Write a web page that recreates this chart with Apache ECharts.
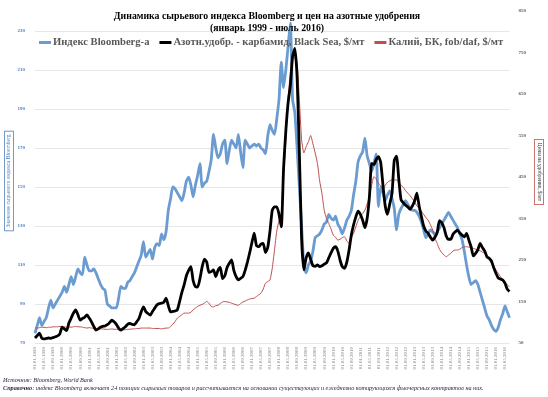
<!DOCTYPE html>
<html>
<head>
<meta charset="utf-8">
<script src="https://cdn.jsdelivr.net/npm/echarts@6/dist/echarts.min.js"></script>
<style>
  html, body { margin: 0; padding: 0; background: #fff; }
  #chart { width: 548px; height: 397px; }
</style>
</head>
<body>
<div id="chart"></div>
<script>
// месяцы: январь 1999 - июль 2016
var months = [];
for (var y = 1999; y <= 2016; y++) {
  for (var m = 1; m <= 12; m++) {
    if (y === 2016 && m > 7) break;
    months.push("01." + (m < 10 ? "0" + m : m) + "." + y);
  }
}

// Индекс Bloomberg (левая ось)
var bloomberg = [
  75, 79, 83, 79, 81, 83, 88, 92, 88, 90, 92, 94,
  96, 99, 96, 100, 104, 100, 104, 108, 106, 105, 114, 110,
  107, 107, 108, 106, 103, 100, 98, 97, 90, 89, 88, 88,
  88, 93, 99, 98, 98, 101, 102, 104, 106, 109, 112, 115,
  122, 114, 116, 118, 113, 119, 121, 120, 126, 123, 127, 138,
  144, 150, 149, 147, 145, 143, 147, 153, 155, 151, 145, 151,
  156, 162, 150, 152, 153, 158, 164, 177, 170, 165, 167, 172,
  174, 162, 169, 174, 172, 170, 177, 168, 160, 174, 172, 170,
  171, 172, 171, 172, 170, 169, 167, 176, 182, 179, 177, 185,
  195, 214, 201, 210, 222, 234, 195, 188, 170, 150, 130, 110,
  106, 110, 112, 117, 124, 125, 126, 128, 131, 132, 136, 134,
  133, 135, 131, 129, 126, 129, 133, 135, 138, 146, 153, 163,
  166, 168, 175, 166, 162, 158, 162, 167, 140, 150, 147, 143,
  146, 148, 144, 139, 128, 136, 139, 141, 143, 141, 139, 138,
  138, 137, 135, 132, 128, 124, 126, 128, 127, 126, 127, 129,
  131, 133, 135, 137, 135, 133, 131, 129, 126, 123, 117, 110,
  104, 100, 101, 102, 100, 96, 92, 88, 84, 82, 79, 77,
  76, 78, 82, 85, 89, 86, 83
];

// Карбамид, Black Sea, $/мт (правая ось)
var urea = [
  62, 68, 74, 62, 60, 61, 62, 61, 63, 65, 67, 72,
  88, 84, 80, 98, 110, 122, 130, 118, 105, 109, 112, 118,
  110, 101, 90, 81, 84, 88, 90, 91, 94, 99, 105, 101,
  95, 86, 81, 85, 89, 95, 97, 95, 94, 101, 109, 125,
  137, 126, 121, 117, 126, 134, 142, 145, 146, 148, 158, 140,
  125, 126, 127, 130, 150, 172, 190, 212, 225, 234, 200, 186,
  185, 205, 234, 252, 245, 220, 222, 226, 210, 225, 232, 205,
  212, 232, 242, 250, 225, 210, 202, 206, 210, 225, 245, 267,
  292, 315, 285, 282, 288, 290, 268, 280, 320, 370, 378, 378,
  360, 330, 470, 560, 628, 670, 740, 760, 690, 508, 300, 226,
  255, 267, 252, 236, 235, 238, 234, 236, 240, 243, 255, 267,
  278, 282, 272, 250, 234, 230, 245, 274, 310, 335, 354, 368,
  360, 346, 328, 350, 402, 483, 480, 492, 499, 485, 430, 380,
  360, 385, 410, 490, 500, 445, 395, 388, 382, 378, 372, 380,
  392, 411, 380, 355, 332, 320, 314, 305, 298, 305, 316, 345,
  340, 328, 308, 300, 300, 312, 318, 322, 315, 310, 306, 314,
  298, 282, 260, 266, 275, 290, 280, 272, 258, 254, 248, 232,
  218, 207, 204, 202, 194, 180, 174
];

// Калий, БК, fob/daf, $/мт (правая ось)
var potash = [
  86, 86, 87, 88, 88, 87, 88, 88, 89, 89, 89, 90,
  89, 89, 88, 89, 88, 89, 90, 89, 89, 88, 87, 86,
  87, 86, 85, 84, 84, 84, 84, 83, 83, 83, 84, 83,
  83, 82, 82, 82, 82, 83, 83, 84, 84, 85, 85, 86,
  86, 86, 86, 86, 85, 85, 85, 85, 84, 85, 86, 86,
  90, 95, 102, 110, 114, 118, 122, 122, 122, 124, 130, 134,
  138, 141, 143, 146, 150, 146, 138, 137, 140, 141, 145, 149,
  150, 149, 148, 146, 144, 142, 141, 145, 149, 151, 154, 156,
  157, 158, 162, 166, 170, 180, 194, 198, 202, 230, 274, 320,
  345, 363, 443, 539, 640, 700, 748, 735, 724, 635, 540, 508,
  523, 535, 550, 530, 508, 483, 440, 410, 370, 350, 338, 325,
  310, 305, 298, 300, 304, 306, 296, 290, 305, 314, 330, 346,
  355, 362, 370, 385, 402, 430, 451, 445, 435, 428, 419, 430,
  437, 441, 443, 443, 443, 437, 430, 425, 417, 411, 405, 398,
  390, 380, 375, 368, 360, 352, 346, 335, 322, 302, 290, 276,
  268, 262, 258, 262, 266, 272, 274, 274, 276, 280, 282, 282,
  281, 280, 278, 276, 274, 272, 269, 266, 258, 250, 242, 234,
  226, 218, 210, 202, 196, 190, 186
];

var leftTicks = [70, 230, 20];
var rightTicks = [50, 850, 100];

var chart = echarts.init(document.getElementById("chart"));

var serif = "Liberation Serif";

var option = {
  backgroundColor: "#fff",
  animation: false,
  title: {
    text: "Динамика сырьевого индекса Bloomberg и цен на азотные удобрения\n(январь 1999 - июль 2016)",
    left: 262,
    top: 5,
    textAlign: "center",
    textStyle: {
      fontFamily: serif,
      fontWeight: "bold",
      fontSize: 9.8,
      lineHeight: 12,
      color: "#000",
    },
  },
  legend: {
    left: 34,
    top: 32,
    itemWidth: 12,
    itemHeight: 3,
    itemGap: 10,
    icon: "rect",
    textStyle: {
      fontFamily: serif,
      fontWeight: "bold",
      fontSize: 10.6,
      color: "#595959",
      padding: [0, 0, 0, -3],
    },
    data: [
      "Индекс Bloomberg-a",
      "Азотн.удобр. - карбамид, Black Sea, $/мт",
      "Калий, БК, fob/daf, $/мт",
    ],
  },
  grid: [
    { left: 35, right: 38.5, top: 31, bottom: 54 },
    { left: 35, right: 38.5, top: 11, bottom: 54 },
  ],
  xAxis: [
    {
      type: "category",
      gridIndex: 0,
      data: months,
      boundaryGap: false,
      axisLine: { show: false },
      axisTick: { show: false },
      splitLine: { show: false },
      axisLabel: {
        interval: 3,
        rotate: 90,
        margin: 4,
        fontFamily: serif,
        fontSize: 5,
        color: "#7f7f7f",
      },
    },
    {
      type: "category",
      gridIndex: 1,
      data: months,
      boundaryGap: false,
      show: false,
    },
  ],
  yAxis: [
    {
      type: "value",
      gridIndex: 0,
      min: leftTicks[0],
      max: leftTicks[1],
      interval: leftTicks[2],
      axisLine: { show: false },
      axisTick: { show: false },
      axisLabel: {
        margin: 10,
        fontFamily: serif,
        fontWeight: "bold",
        fontSize: 5,
        color: "#4f81bd",
      },
      splitLine: {
        lineStyle: { color: "#e6e6e6", width: 1 },
      },
    },
    {
      type: "value",
      gridIndex: 1,
      position: "right",
      min: rightTicks[0],
      max: rightTicks[1],
      interval: rightTicks[2],
      axisLine: { show: false },
      axisTick: { show: false },
      splitLine: { show: false },
      axisLabel: {
        margin: 9,
        fontFamily: serif,
        fontWeight: "bold",
        fontSize: 5,
        color: "#595959",
      },
    },
  ],
  series: [
    {
      name: "Индекс Bloomberg-a",
      type: "line",
      xAxisIndex: 0,
      yAxisIndex: 0,
      data: bloomberg,
      showSymbol: false,
      smooth: 0.2,
      clip: false,
      color: "#6a9bd1",
      lineStyle: { width: 2.8, color: "#6a9bd1" },
      z: 2,
    },
    {
      name: "Азотн.удобр. - карбамид, Black Sea, $/мт",
      type: "line",
      xAxisIndex: 1,
      yAxisIndex: 1,
      data: urea,
      showSymbol: false,
      smooth: 0.2,
      color: "#000",
      lineStyle: { width: 2.8, color: "#000" },
      z: 4,
    },
    {
      name: "Калий, БК, fob/daf, $/мт",
      type: "line",
      xAxisIndex: 1,
      yAxisIndex: 1,
      data: potash,
      showSymbol: false,
      smooth: 0.2,
      color: "#c0504d",
      lineStyle: { width: 1, color: "#c0504d" },
      z: 3,
    },
  ],
  graphic: [
    {
      type: "text",
      x: 9,
      y: 181,
      rotation: Math.PI / 2,
      style: {
        text: "Значение сырьевого индекса Bloomberg",
        fontFamily: serif,
        fontSize: 5.5,
        fill: "#4f81bd",
        align: "center",
        verticalAlign: "middle",
        borderColor: "#4f81bd",
        borderWidth: 0.8,
        padding: [1, 3],
        backgroundColor: "#fff",
      },
    },
    {
      type: "text",
      x: 539,
      y: 172,
      rotation: -Math.PI / 2,
      style: {
        text: "Цены на удобрения, $/мт",
        fontFamily: serif,
        fontSize: 5.5,
        fill: "#333",
        align: "center",
        verticalAlign: "middle",
        borderColor: "#c0504d",
        borderWidth: 0.8,
        padding: [1, 3],
        backgroundColor: "#fff",
      },
    },
    {
      type: "text",
      left: 3,
      top: 377,
      style: {
        text: "Источник: Bloomberg, World Bank",
        fontFamily: serif,
        fontStyle: "italic",
        fontSize: 6.2,
        fill: "#1f1f3f",
      },
    },
    {
      type: "text",
      left: 3,
      top: 385,
      style: {
        text: "{b|Справочно}: индекс Bloomberg включает 24 позиции сырьевых товаров и рассчитывается на основании существующих и ежедневно котирующихся фьючерсных контрактов на них.",
        fontFamily: serif,
        fontStyle: "italic",
        fontSize: 6.2,
        fill: "#1f1f3f",
        rich: {
          b: {
            fontFamily: serif,
            fontStyle: "italic",
            fontWeight: "bold",
            fontSize: 6.2,
            fill: "#1f1f3f",
          },
        },
      },
    },
  ],
};
chart.setOption(option);
</script>
</body>
</html>
